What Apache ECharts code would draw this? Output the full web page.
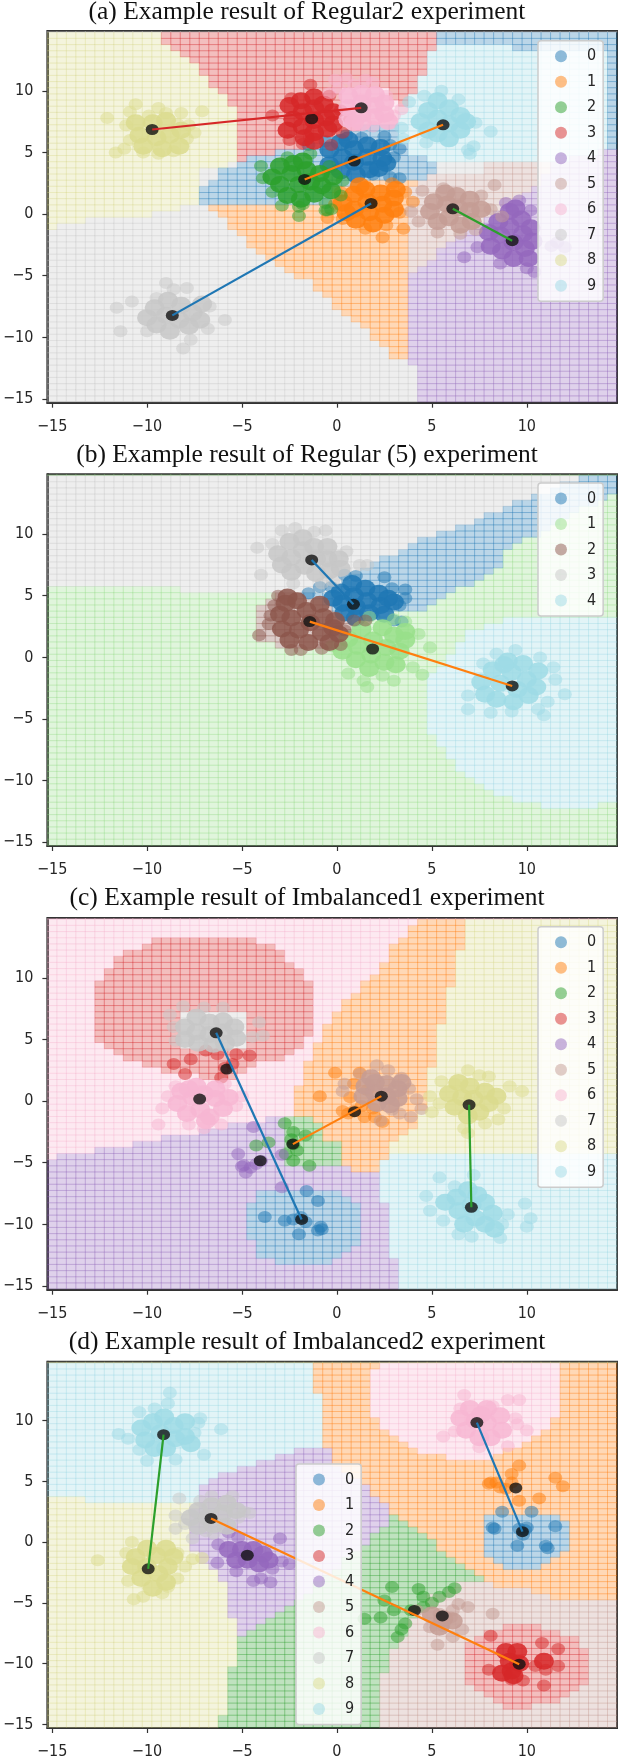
<!DOCTYPE html>
<html><head><meta charset="utf-8">
<style>html,body{margin:0;padding:0;background:#fff}#c{width:618px;height:1760px}</style>
<script src="https://cdn.jsdelivr.net/npm/echarts@6/dist/echarts.min.js"></script></head>
<body><div id="c"></div>
<script>
const tabColors=['#1f77b4','#ff7f0e','#2ca02c','#d62728','#9467bd','#c49c94','#f7b6d2','#c7c7c7','#dbdb8d','#9edae5'];
const fiveColors=['#1f77b4','#98df8a','#8c564b','#c7c7c7','#9edae5'];
const lineColors=['#1f77b4','#ff7f0e','#2ca02c','#d62728'];
const xTicks=[-15,-10,-5,0,5,10];
const yTicks=[-15,-10,-5,0,5,10];
const titles=['(a) Example result of Regular2 experiment','(b) Example result of Regular (5) experiment','(c) Example result of Imbalanced1 experiment','(d) Example result of Imbalanced2 experiment'];

// ---------- Panel A regions
const rA8=[[-15.3,15],[-9.9,15],[-7.4,12],[-5.8,9.2],[-5.4,8.5],[-5.4,4.4],[-5.9,3.7],[-7.4,3.5],[-7.4,.9],[-9.8,0],[-13.8,-.6],[-15.3,-1.3]];
const rA3=[[-9.9,15],[5.2,15],[5.2,13.3],[4.8,12.8],[4.8,11.3],[4.1,11.3],[4.1,10],[3.7,9.2],[3.5,8.5],[3.2,7.3],[1.5,7.3],[.3,6.5],[-1.5,5.5],[-4.2,4.8],[-5.3,3.7],[-5.4,3.7],[-5.4,8.5],[-5.8,9.2],[-7.4,12]];
const rA0s=[[5.2,15],[15,15],[15,5.3],[14.2,5.3],[14.2,13.2],[9.1,13.2],[9.1,13.8],[5.2,13.8]];
const rA9=[[3.2,7.3],[3.7,9.2],[4.1,10],[4.1,11.3],[4.8,11.3],[4.8,12.8],[5.2,13.3],[5.2,13.8],[9.1,13.8],[9.1,13.2],[14.2,13.2],[14.2,5.3],[13,4.3],[5.3,4.4],[3.8,4.6]];
const rA0=[[-7.4,.9],[-.2,.9],[0,2],[2,2.8],[4.1,2.8],[5.3,3.3],[5.3,4.4],[3.8,4.6],[3.2,7.3],[1.5,7.3],[.3,6.5],[-1.5,5.5],[-4.2,4.8],[-5.3,3.7],[-5.9,3.7],[-6.5,2.5],[-7.4,1.8]];
const rA5=[[4.1,2.8],[5.3,3.3],[7.8,3.3],[7.8,4.3],[11.5,4.3],[10.45,2.35],[8.2,0],[6.5,-1.6],[5.07,-3.5],[3.75,-5.2],[3.75,1]];
const rA4=[[3.75,-5.2],[5.07,-3.5],[6.5,-1.6],[8.2,0],[10.45,2.35],[11.5,4.3],[15,5.3],[15,-15.5],[4.2,-15.5],[4.2,-12.4],[3.75,-12.4]];
const rA1=[[-6.9,.9],[-.2,.9],[0,2],[2,2.8],[4.1,2.8],[3.75,1],[3.75,-11.9],[3.2,-11.9],[2,-10],[.2,-7.8],[-1.35,-5.6],[-3.4,-4],[-4.35,-2.8],[-5.8,-.75]];
const rA6=[[.3,7.3],[.3,9.8],[.8,10.3],[2.6,10.3],[2.9,9.3],[3.4,8.8],[3.4,7.8],[2.8,7.3]];
// ---------- Panel B regions
const rB3=[[-15.3,15],[13.6,15],[13.6,14.65],[12.6,14.4],[10,12.9],[9.1,12.35],[7.1,10.9],[6.1,10.4],[4.66,9.8],[3.6,8.84],[2.7,8.3],[1.55,7.2],[.5,6.27],[-.5,5.3],[-2.4,5.2],[-8.18,5.3],[-8.2,5.8],[-15.3,5.8]];
const rB0=[[13.6,15],[15,15],[14.9,13.3],[12.7,11.95],[10.45,9.8],[8.8,8.7],[8.8,7.35],[7.7,6.27],[5.7,5],[5.18,4.4],[4.14,3.7],[3,3.5],[.6,3],[.1,3.84],[-1.35,4.9],[-2.4,5.2],[-.5,5.3],[.5,6.27],[1.55,7.2],[2.7,8.3],[3.6,8.84],[4.66,9.8],[6.1,10.4],[7.1,10.9],[9.1,12.35],[10,12.9],[12.6,14.4],[13.6,14.65]];
const rB2=[[-4.3,4.4],[-4.3,1.4],[-3.2,1.4],[-3.2,.9],[-.3,.9],[.3,1.4],[.6,2.2],[.6,3],[.1,3.84],[-1.35,4.9],[-2.4,5.2],[-3.2,5.2],[-3.6,4.4]];
const rB4=[[15,3.43],[9.2,3.3],[7.1,2.2],[6.2,.86],[5.7,-.5],[4.66,-1.84],[4.66,-5.6],[5.18,-6.4],[5.7,-8],[6.7,-9.4],[8.1,-10.75],[9.6,-11.7],[12.3,-12.3],[15,-11.7]];
// ---------- Panel C regions
const rC4=[[-15.3,-4.7],[-13.35,-4.16],[-11.8,-3.75],[-9.83,-3.16],[-8.3,-2.8],[-6.3,-2.27],[-4.85,-1.6],[-2.4,-1.4],[-1,-2],[-.7,-3.2],[.2,-3.2],[.7,-5.24],[2.17,-5.65],[2.17,-7.7],[2.7,-8.35],[2.7,-12.7],[3.2,-12.7],[3.2,-15.5],[-15.3,-15.5]];
const rC2=[[-2.8,-1.3],[-1.3,-1.3],[-.7,-2.3],[-.7,-3.2],[.2,-3.2],[.2,-5.25],[-2.8,-5.25]];
const rC1=[[4.6,15],[6.7,15],[6.7,12.3],[6.2,12.2],[6.2,9.76],[5.7,8.8],[5.3,3.8],[4.76,2.3],[4.76,.57],[4.24,-2.27],[3.2,-2.95],[2.7,-4.3],[2.17,-5.65],[1.14,-5.65],[.7,-5.24],[.2,-5.24],[.2,-3.2],[-.7,-3.2],[-.7,-2.3],[-1.35,-1.32],[-2.28,-1.2],[-2.28,.3],[-1.86,1.8],[-1.35,3.67],[-.4,6.4],[.2,7.46],[1.24,9.35],[2.17,10.7],[2.7,11.8],[3.1,12.9],[4.14,14.3]];
const rC8=[[6.7,15],[15,15],[15,-4.3],[2.7,-4.3],[3.2,-2.95],[4.24,-2.27],[4.76,.57],[4.76,2.3],[5.3,3.8],[5.7,8.8],[6.2,9.76],[6.2,12.2],[6.7,12.3]];
const rC9=[[2.7,-4.3],[15,-4.3],[15,-15.5],[3.2,-15.5],[3.2,-12.7],[2.7,-12.7],[2.7,-8.35],[2.17,-7.7],[2.17,-5.65]];
const rC3=[[-8.86,13.3],[-5.28,13.3],[-3.83,12.86],[-2.8,11.8],[-1.86,10.7],[-1.24,9.2],[-1.24,5.84],[-2.28,3.67],[-4.24,3],[-5.28,1.73],[-9.1,2.3],[-10.87,3.27],[-12.4,4.35],[-12.8,5.84],[-12.8,8.5],[-12.4,10.43],[-10.87,12.3],[-9.83,12.86]];
const rC0=[[-3.83,-7.2],[.2,-7.2],[1.18,-8.5],[1.18,-11.6],[.2,-12.7],[-.83,-13.35],[-2.28,-13.35],[-3.93,-12.7],[-4.35,-11.6],[-4.87,-10.9],[-4.87,-8.76],[-4.35,-7.8]];
const rC7=[[-8.2,7.2],[-4.9,7.2],[-4.9,4.4],[-8.2,4.4]];
// ---------- Panel D regions
const rD9=[[-15.3,15],[-1.35,15],[-1.35,12.27],[-.83,12.27],[-.83,7.76],[-2.4,7.35],[-3.83,6.68],[-5.8,5.86],[-6.83,4.9],[-7.35,4.1],[-7.35,3.3],[-11.7,3.35],[-15.3,3.7]];
const rD4=[[-7.35,4.1],[-6.83,4.9],[-5.8,5.86],[-3.83,6.68],[-2.4,7.35],[-1.35,7.76],[-.3,7.76],[-.3,6.68],[2.17,3.7],[2.7,2.9],[2.7,1.68],[1.76,.3],[-2.17,-5.08],[-4.87,-7.8],[-5.4,-8.3],[-5.4,-6.7],[-5.8,-5.6],[-5.8,-3.86],[-6.3,-2.38],[-7.35,-1.16],[-7.8,-.2],[-7.8,1.4],[-7.35,3.3]];
const rD2=[[2.7,2.35],[3.2,2.2],[4.14,1.14],[5.18,-.2],[6.73,-2.24],[7.76,-2.9],[6.73,-3.3],[5,-4.4],[4.24,-5.9],[3.2,-8.46],[2.7,-9.3],[2.7,-10.75],[2.17,-11],[2.17,-15.5],[-6.35,-15.5],[-6.35,-14.1],[-5.8,-14.1],[-5.8,-10.2],[-5.4,-10.2],[-5.4,-8.3],[-4.87,-7.8],[-2.17,-5.08],[1.76,.3],[2.7,1.68]];
const rD5=[[7.76,-3.2],[8.8,-3.7],[11.2,-4.27],[11.7,-4.8],[15,-4.8],[15,-15.5],[2.17,-15.5],[2.17,-11],[2.7,-10.75],[2.7,-9.3],[3.2,-8.46],[4.24,-5.9],[5,-4.4],[6.73,-3.3]];
const rD1=[[-1.35,15],[15,15],[15,-4.8],[11.7,-4.8],[11.2,-4.27],[8.8,-3.7],[7.76,-3.2],[7.76,-2.9],[6.73,-2.24],[5.18,-.2],[4.14,1.14],[3.2,2.2],[2.7,2.35],[2.7,2.9],[2.17,3.7],[-.3,6.68],[-.3,7.76],[-.83,7.76],[-.83,12.27],[-1.35,12.27]];
const rD6=[[2.17,15],[11.2,15],[11.6,14.4],[11.6,10.86],[11.2,9.24],[9,7.5],[8,6.95],[5.7,6.95],[3.83,7.76],[2.28,9.5],[1.76,10.86],[1.76,13.7]];
const rD0=[[7.72,2.35],[11.7,2.35],[12.17,1.27],[12.17,-.62],[11.7,-1.16],[10.66,-2.16],[9.1,-2.16],[7.72,-1.16]];
const rD3=[[6.63,-8.86],[7.14,-7.8],[8.18,-7.1],[10.25,-6.7],[12.2,-7.65],[13.25,-8.86],[13.25,-11.3],[12.2,-12.4],[11.7,-13.2],[9.2,-13.7],[7.66,-12.4],[6.63,-11.57]];

// ---------- Panel A points (loose points, then dense core)
const A0=[[3.3,5.3],[2.5,6.3],[2.8,3],[3.3,2.9],[1.9,3.2],[.5,6.4],[2.8,5.6],[3,4.6],[-.6,5.9],[1.3,6.2],[-1.5,5.6]];
const A0c=[[-.4,4],[-.4,5.2],[.2,5.8],[.3,4.6],[.2,3.5],[.9,5.3],[.9,4.2],[1,3.2],[1.6,5.6],[1.6,4.6],[1.7,3.6],[2.3,5.4],[2.4,4.5],[2.2,3.7],[2.6,4.1],[.6,6]];
const A1=[[3.5,-1.2],[2.4,-1.9],[4,1],[3.6,1.8],[-.1,.8],[2.9,2.5],[1.5,-1.2],[.3,-.4],[2.6,-.9],[3.3,.1],[-.5,-.3],[.2,1.8]];
const A1c=[[.3,.9],[.5,.1],[.9,1.6],[.9,.4],[1,-.5],[1.5,2],[1.6,1],[1.7,.1],[1.9,-.8],[2.3,1.7],[2.4,.8],[2.5,-.1],[3,1.3],[3,.4],[3.1,2],[1.2,2.3]];
const A2=[[-4,3.9],[-3.9,2.9],[-2.9,.7],[-2.6,4.6],[-1.4,4.9],[-.4,3.9],[-.6,.9],[.3,2.7],[-3.4,1.8],[-1.8,.8],[.2,1.5],[-2,.6],[-2,-.15],[-.6,.3],[-.5,.3],[-.3,.4]];
const A2c=[[-3.4,3],[-3,3.9],[-3,2.4],[-2.6,1.5],[-2.4,3.3],[-2.3,4.1],[-2,2.4],[-1.9,1.2],[-1.6,3.6],[-1.4,2.6],[-1.2,1.6],[-.9,3.3],[-.8,2.3],[-.2,3],[-.3,1.9],[-1.8,4.3]];
const A3=[[-1.4,10.5],[-3.4,8],[-2.5,6],[.3,6.6],[-.3,5.6],[.2,8.4],[-1.8,5.7],[-2.4,9.4],[-.4,9.6],[.7,7.7]];
const A3c=[[-2.5,8.8],[-2.3,7.7],[-2.6,6.8],[-1.9,9.2],[-1.8,8.3],[-1.8,7.1],[-1.7,6.2],[-1.2,9.5],[-1.2,8.6],[-1.2,7.6],[-1.2,6.6],[-.7,8.9],[-.6,7.8],[-.5,6.9],[-.2,7.3],[-.2,8.3],[-1.2,5.9]];
const A4=[[7.4,-2.7],[6.7,-3.5],[8.9,.9],[9.6,1.1],[10.2,.3],[10,-4.4],[8.6,-4],[10.4,-4.7],[11.3,-2.6],[12,-2.7],[11.6,-2.3]];
const A4c=[[8,-1.5],[8.1,-2.6],[8.5,-.6],[8.6,-1.7],[8.7,-3],[9.1,.2],[9.1,-1],[9.3,-2.3],[9.3,-3.6],[9.7,-.4],[9.8,-1.6],[9.9,-2.8],[10.1,-3.6],[10.2,-1.1],[10.3,-2.2],[9.4,.5]];
const A5=[[8.3,2.35],[4.5,1.9],[3.9,.2],[8.1,.4],[5.3,-1.5],[7.3,-1.3],[6.5,-1.6],[7.6,1.5],[5.6,2.1],[4.3,-.6],[8.7,-.2]];
const A5c=[[4.9,.2],[5.1,1],[5.3,-.6],[5.7,1.7],[5.8,.8],[5.9,-.3],[6.3,1.5],[6.4,.5],[6.5,-.9],[7,1.2],[7,.3],[7.1,-.6],[7.6,.4]];
const A6=[[-.1,10.9],[.5,11],[1.9,10.7],[.9,10.5],[2.6,9.6],[3,8],[3.4,8.5],[1.9,7.1],[.1,10.2],[1.5,10.9],[-.4,9.8]];
const A6c=[[.6,9.6],[.6,8.6],[.6,7.7],[1.3,9.8],[1.3,9],[1.3,8.1],[1.3,7.4],[2,9.7],[2,8.8],[2,7.9],[2.5,9],[2.5,8.1],[2.7,7.5],[.9,7.4]];
const A7=[[-11.6,-7.6],[-11.4,-9.5],[-10.8,-7.1],[-9,-5.6],[-7.9,-6],[-5.9,-8.6],[-8.1,-10.9],[-7.7,-10.2],[-10,-9.5],[-6.7,-7.5],[-8.6,-6.1],[-6.8,-9.3],[-9.5,-6.8]];
const A7c=[[-10,-8.4],[-9.6,-7.6],[-9.5,-9],[-9,-8.2],[-8.9,-7],[-8.8,-9.5],[-8.3,-8.6],[-8.2,-7.4],[-7.8,-9.1],[-7.6,-8],[-7.2,-8.6],[-7.1,-7.3]];
const A8=[[-12.1,7.8],[-11.65,5],[-11.2,5.3],[-11.1,7.2],[-10.9,8.3],[-10.6,8.9],[-10.2,5],[-9.9,8],[-9.4,8.6],[-9,8.2],[-8.6,5.1],[-8.4,7.3],[-8.2,8.2],[-7.9,6.1],[-7.8,7.2],[-7.5,6.6],[-7.1,8.35],[-10.9,6],[-9.4,4.9]];
const A8c=[[-10.6,7.4],[-10.4,6.4],[-10.2,5.5],[-9.7,7.4],[-9.5,6.2],[-9.2,5.3],[-9,7.6],[-8.8,6.4],[-8.3,5.5],[-8.2,6.8]];
const A9=[[8.1,6.7],[3.8,9.1],[3.4,7],[3.5,6.1],[7.2,5.5],[7,4.9],[6.9,5.2],[4.7,5.8],[7.3,7.4],[6.4,9.3],[5.5,10],[4.6,9.6]];
const A9c=[[4.4,7.5],[4.8,8.4],[4.8,6.8],[5.3,9.2],[5.3,7.8],[5.3,6.5],[5.9,8.6],[5.9,7.3],[5.9,6.1],[6.5,8],[6.5,6.8],[6.8,7.5]];
// ---------- Panel B points
const B0=[[.4,6.7],[1,6.6],[2.5,6.5],[3.6,5.5],[3.3,4.2],[3.6,4.8],[3,3],[3.4,2.9],[-1.5,5.2],[-.9,5.7],[-.3,5.7],[2.9,5.6]];
const B0c=[[-.2,4.8],[.2,5.3],[.3,4.4],[.4,3.6],[.8,6],[.9,5],[1,4.1],[1,3.2],[1.5,5.6],[1.6,4.6],[1.7,3.6],[2.2,5.2],[2.3,4.2],[2.5,3.5],[2.7,4.8],[3,4.5]];
const B1=[[-.3,.9],[.6,-1.3],[1.4,-1.9],[1.6,-2.4],[2.4,-1.5],[3,-1.9],[4,-.8],[4.5,-1.4],[4.9,.8],[4.3,1.9],[3.6,2.9],[1.7,3.3],[3,3.1]];
const B1c=[[.3,.5],[.6,1.5],[1,-.2],[1.1,.9],[1.3,2.3],[1.7,-.9],[1.8,.2],[1.9,1.4],[2.4,2.4],[2.5,-.4],[2.6,.8],[3,1.8],[3.1,-.6],[3.3,.5],[3.6,1.4],[3.6,2.1]];
const B2=[[-4.1,1.8],[-3.5,3.4],[-3.1,5],[-2.4,.6],[-1.9,.6],[-.8,.7],[.4,2.2],[.9,3],[1.5,3],[-3.3,4.2],[-3.6,2.7],[.2,1]];
const B2c=[[-3,3.5],[-2.9,2.3],[-2.7,4.4],[-2.5,1.4],[-2.4,3.2],[-2.1,4.6],[-2,2.2],[-1.6,3.8],[-1.5,1.2],[-1.4,2.8],[-.9,4.3],[-.8,2],[-.7,3.3],[-.2,2.4],[-.1,3],[-.4,1.2],[.1,1.9],[-2.6,4.9]];
const B3=[[-4.2,8.9],[-4,6.7],[-3.4,9.2],[-2.9,10.3],[-2.2,10.5],[-1.2,10.2],[-.6,10.3],[.5,8.6],[1.2,7.5],[1.6,7.5],[-.8,6],[-2.3,6],[-.2,6.2]];
const B3c=[[-3.1,8.4],[-2.9,7.5],[-2.5,9.4],[-2.4,8.1],[-2.4,6.9],[-1.8,9.7],[-1.8,8.7],[-1.7,7.4],[-1.2,9],[-1.1,8],[-1.1,6.8],[-.5,9],[-.5,8],[-.4,7],[.1,8],[.2,7.2]];
const B4=[[6.9,-3.1],[6.9,-4.2],[7.7,-.5],[8.1,-4.5],[9.2,-4.4],[9.4,.6],[10.9,-4.7],[11.4,-.8],[11.5,-1.8],[12,-3],[10.7,0],[8.4,.3],[10.6,-4.2],[11.1,-3.6]];
const B4c=[[7.6,-2],[7.8,-3],[8.2,-1],[8.4,-3.4],[8.6,-2.1],[9,-.3],[9.2,-1.2],[9.3,-3.6],[9.5,-2.6],[9.8,-.5],[10,-1.8],[10.1,-3.1],[10.5,-2.4],[10.6,-1.1],[8.8,-.6]];
// ---------- Panel C points
const C0=[[-1.6,-7.3],[-1,-8.1],[-3.8,-9.4],[-2.75,-9.7],[-2.3,-9.6],[-1.9,-9.4],[-1.65,-9.8],[-2,-10.8],[-1,-10.5],[-.8,-10.4],[-.85,-10.2]];
const C1=[[-.9,.4],[-.1,2.3],[1.2,2.3],[.9,-.8],[.3,-.8],[2,-1.3],[1.45,-1.3],[.6,-1],[2.4,-1.7],[.7,.3],[.9,1.4],[1.6,.9],[1.3,-.4],[1.9,-.6]];
const C2=[[-2.75,-1.8],[-2.3,-2.5],[-1.65,-2.8],[-2.3,-3.5],[-4.25,-3.6],[-3.6,-3.35],[-2.3,-4.84],[-1.45,-5.24],[-2.7,-4.3],[-2.1,-4],[-2.4,-3.1]];
const C3=[[-7.7,3.4],[-5.3,3.8],[-4.6,3.7],[-5.9,2.7],[-6.9,4.1],[-6.3,3.8],[-5.5,3],[-8.6,3],[-8,2.2],[-6.1,1.9]];
const C4=[[-4.4,-2.1],[-5.2,-4.3],[-4.9,-5.2],[-4.8,-5.8],[-4.25,-5.1],[-4,-4.85],[-2.9,-4.35],[-2.9,-7],[-4.55,-5.4],[-5,-5.3]];
const C5=[[2.1,2.9],[2.7,2.5],[3.4,1.9],[4.2,.15],[4.45,-.65],[3.9,-1.3],[3.3,-1],[2.3,-1.6],[.3,.8],[.4,1.4],[3.8,1],[2.9,-.7],[1.2,2.2]];
const C5c=[[1.4,.4],[1.5,1.2],[2,.7],[2,1.5],[2.1,-.2],[2.6,1.4],[2.6,.4],[2.8,-.3],[3.2,1],[3.2,.2],[3.4,1.5],[1.8,1.9]];
const C6=[[-9.4,-1.9],[-9.2,-.6],[-8.9,.4],[-7.8,-1.9],[-7,-2.2],[-6.1,-1.9],[-5,.4],[-5.3,-.4],[-8.5,1.2],[-5.9,1.4]];
const C6c=[[-8.4,-.2],[-8.2,.8],[-7.9,-1],[-7.6,.3],[-7.4,1.2],[-7.2,-.7],[-7,.6],[-6.7,-1.3],[-6.4,.2],[-6.4,1],[-6,-.6],[-5.7,.3],[-7.8,1],[-6.9,-1.6]];
const C7=[[-8.8,7],[-8.1,7.7],[-7,7.6],[-6,7.6],[-4.1,6.4],[-3.9,5.3],[-4.45,5.2],[-8.5,4.9],[-8.6,6]];
const C7c=[[-8,6],[-8,5],[-7.4,6.8],[-7.4,5.6],[-7.3,4.7],[-6.7,6.4],[-6.7,5.4],[-6.5,4.6],[-6,6.5],[-6,5.6],[-5.9,4.7],[-5.4,6],[-5.3,5.1]];
const C8=[[4.9,.4],[5,-.9],[5.5,1.6],[6.9,2.5],[7.5,2.1],[8,2],[9.1,1.2],[9.75,.8],[8.8,-.6],[8.5,-1.5],[7.8,-1.8],[6.7,-2.2],[6.9,-2.6],[5.4,-.2],[6.2,1.4]];
const C8c=[[5.9,.6],[6.2,-.5],[6.4,1.5],[6.6,.3],[6.9,-1.2],[7,1.2],[7.2,.2],[7.5,-.9],[7.8,.8],[8,-.2],[8.4,.4]];
const C9=[[4.7,-7.7],[4.9,-8.9],[5.4,-6.2],[6.2,-6.9],[7.2,-6],[7.1,-11],[8.6,-11.1],[9,-9.2],[9.9,-8.3],[10.2,-9.5],[10,-10.2],[6.4,-10.8],[8.7,-10],[5.6,-9.7]];
const C9c=[[5.7,-8.2],[6.3,-7.8],[6.4,-8.9],[6.7,-10],[6.9,-7.2],[7.1,-8.4],[7.3,-9.5],[7.8,-8.2],[7.8,-10],[8.2,-9.1],[8.3,-10.4],[7.4,-7.6]];
// ---------- Panel D points
const D0=[[8.2,1.2],[8.3,1.1],[9.5,-.3],[11,-.3],[11.1,-.5],[11.5,1.3],[9.9,1],[9.6,1.1],[10,1.2],[9.8,.6],[8.7,2.5],[10.25,2.5]];
const D1=[[9.6,6.3],[9.2,5.6],[8.1,4.9],[8,4.8],[8.6,4.5],[9.2,4.9],[11.5,5.3],[11.9,4.6],[10.65,3.6],[9.6,3.4],[8.9,4.4],[8.4,4.9]];
const D2=[[2.9,-3.7],[4.3,-3.85],[4.55,-4.5],[6.2,-3.8],[5.4,-4.5],[2.5,-4.8],[3,-5.6],[2.3,-6.2],[1.45,-6.3],[3.6,-6.7],[3.2,-7.8],[3.4,-7.2],[3.9,-5.6],[4.55,-5.35],[5,-5],[5.9,-4.1]];
const D3=[[8.1,-7.7],[10.8,-8.3],[11.65,-8.8],[10.9,-11.8],[9.8,-11.4],[8,-10.5],[9.2,-11.3],[11.65,-10.2],[11,-10.5],[10.45,-10.2]];
const D3c=[[8.9,-9],[9.1,-9.8],[9.2,-10.6],[9.5,-9],[9.6,-10],[8.7,-10.8],[9.3,-11],[10.9,-9.8]];
const D4=[[-6.3,-1.7],[-6.25,-.2],[-3,.3],[-2.5,-1.8],[-3.5,-3.3],[-4,-3],[-5.3,-2.4],[-4.4,-3.2],[-3.4,-2.2],[-2.9,-1.6],[-5.7,.8],[-5.2,.4]];
const D4c=[[-5.7,-.6],[-5.3,-1.5],[-5,-.6],[-4.7,-1.5],[-4.4,-.6],[-4.1,-1.8],[-3.9,-1],[-3.6,-1.5]];
const D5=[[8.2,-5.9],[6.9,-5.35],[6.4,-5.1],[6.6,-7.2],[6.1,-7.8],[5.3,-8.45],[4.9,-7],[5.4,-5.9],[4.2,-5.6],[6,-6.2],[5.6,-6.9],[6.1,-5.6]];
const D5c=[[5,-6],[5.6,-6.3],[6.1,-6.5],[5.4,-7]];
const D6=[[5.6,8.7],[6.7,12.1],[9,11.7],[9.6,11.7],[10,9.2],[9,7.9],[7.5,7.8],[6.2,9.1],[9.4,10.2],[6.5,11],[8.2,11.2],[9.5,9.7]];
const D6c=[[6.5,10.2],[6.8,9.2],[7,11],[7.3,10],[7.5,8.6],[7.9,11],[7.9,9.8],[8.1,8.6],[8.6,10.4],[8.7,9.2],[7.6,10.5]];
const D7=[[-8.5,2.2],[-8.5,1.1],[-8.3,3.6],[-7.6,.3],[-7.2,3.4],[-6.6,3.8],[-5.5,3.8],[-4.9,2.5],[-5.2,2],[-6.5,.7],[-8,1.5],[-4.6,2.4],[-6.9,.9]];
const D7c=[[-7.7,2],[-7.3,1.3],[-7.3,2.6],[-6.8,2],[-6.6,3],[-6.5,1.4],[-6,2.4],[-5.8,1.3],[-5.8,3.2],[-5.3,2.6]];
const D8=[[-12.6,-1.5],[-11.1,-.9],[-10.8,0],[-8.4,-.9],[-7.6,-1.4],[-7.1,-1.3],[-11,-3.2],[-10.7,-4.7],[-10.2,-4.5],[-8.9,-3.7],[-8.4,-3],[-9.2,-4.2],[-8,-2]];
const D8c=[[-10.8,-2],[-10.6,-1.2],[-10.3,-3],[-10,-.5],[-10,-2],[-9.7,-3.8],[-9.5,-1.1],[-9.4,-2.6],[-9,-.5],[-8.9,-2],[-9,-3.3],[-8.6,-1.2]];
const D9=[[-11.5,8.9],[-11,8.5],[-10.4,10.7],[-9.6,11],[-8.8,12.3],[-8.9,11.4],[-7.2,10.2],[-6.1,9.3],[-7,7.2],[-8.5,6.8],[-10,6.7],[-7.5,9],[-10.4,7.6],[-7.3,9.8]];
const D9c=[[-10.3,9.4],[-10.1,8.4],[-9.7,9.9],[-9.6,7.7],[-9.3,9],[-9.1,10.3],[-9,7.7],[-8.6,9.6],[-8.5,8.5],[-8,9.9],[-8,8.7],[-7.7,8.1]];
// ---------- Centroids per panel (index = class) and connecting lines [from,to]
const centA=[[.91,4.3],[1.8,.86],[-1.7,2.81],[-1.33,7.73],[9.23,-2.16],[6.1,.43],[1.28,8.62],[-8.67,-8.22],[-9.73,6.86],[5.59,7.24]];
const centB=[[.87,4.3],[1.88,.68],[-1.43,2.9],[-1.33,7.9],[9.23,-2.32]];
const centC=[[-1.86,-9.6],[.93,-.86],[-2.32,-3.49],[-5.8,2.6],[-4.04,-4.84],[2.34,.4],[-7.23,.16],[-6.36,5.54],[6.96,-.3],[7.08,-8.62]];
const centD=[[9.77,.86],[9.42,4.46],[4.08,-5.62],[9.6,-10.05],[-4.72,-1.08],[5.55,-6.08],[7.37,9.84],[-6.63,1.95],[-9.94,-2.2],[-9.13,8.84]];
const linkA=[[7,1],[2,9],[5,4],[8,6]];
const linkB=[[3,0],[2,4]];
const linkC=[[7,0],[2,5],[8,9]];
const linkD=[[6,0],[7,3],[9,8]];

const panels=[
 {top:31,base:7,colors:tabColors,regions:[[8,rA8],[3,rA3],[0,rA0s],[9,rA9],[0,rA0],[5,rA5],[4,rA4],[1,rA1],[6,rA6]],
  loose:[A0,A1,A2,A3,A4,A5,A6,A7,A8,A9],dense:[A0c,A1c,A2c,A3c,A4c,A5c,A6c,A7c,A8c,A9c],cent:centA,links:linkA,legendLeft:538,legendTop:40.7},
 {top:474.3,base:1,colors:fiveColors,regions:[[3,rB3],[0,rB0],[2,rB2],[4,rB4]],
  loose:[B0,B1,B2,B3,B4],dense:[B0c,B1c,B2c,B3c,B4c],cent:centB,links:linkB,legendLeft:538,legendTop:483},
 {top:918,base:6,colors:tabColors,regions:[[4,rC4],[2,rC2],[1,rC1],[8,rC8],[9,rC9],[3,rC3],[0,rC0],[7,rC7]],
  loose:[C0,C1,C2,C3,C4,C5,C6,C7,C8,C9],dense:[[],[],[],[],[],C5c,C6c,C7c,C8c,C9c],cent:centC,links:linkC,legendLeft:538,legendTop:926.7},
 {top:1361.7,base:8,colors:tabColors,regions:[[9,rD9],[4,rD4],[2,rD2],[5,rD5],[1,rD1],[6,rD6],[0,rD0],[3,rD3]],
  loose:[D0,D1,D2,D3,D4,D5,D6,D7,D8,D9],dense:[[],[],[],D3c,D4c,D5c,D6c,D7c,D8c,D9c],cent:centD,links:linkD,legendLeft:296,legendTop:1464}
];

const XMIN=-15.25,XMAX=14.75,YMIN=-15.3,YMAX=14.85,STEP=.5,GL=45.7,GW=571.3,GH=371.7;
const FONT='"DejaVu Sans Condensed","DejaVu Sans",sans-serif';

function inPoly(x,y,poly){let c=false;for(let i=0,j=poly.length-1;i<poly.length;j=i++){
  const a=poly[i],b=poly[j];
  if((a[1]>y)!==(b[1]>y)&&x<(b[0]-a[0])*(y-a[1])/(b[1]-a[1])+a[0])c=!c;}return c;}
function rgba(h,a){const n=parseInt(h.slice(1),16);return `rgba(${n>>16},${(n>>8)&255},${n&255},${a})`;}
function cellsOf(p){const out=[];
  for(let x=-15.25;x<14.74;x+=STEP)for(let y=-15.25;y<14.9;y+=STEP){
    let lab=p.base;const cx=x+STEP/2,cy=y+STEP/2;
    p.regions.forEach(r=>{if(inPoly(cx,cy,r[1]))lab=r[0];});
    out.push([x,y,lab]);}
  return out;}

const grid=[],xAxis=[],yAxis=[],series=[],legend=[],title=[];
const titleTops=[-1,442.3,885.3,1329];
panels.forEach((p,i)=>{
  title.push({text:titles[i],left:307,top:titleTops[i],textAlign:'center',padding:0,
    textStyle:{fontFamily:'"Liberation Serif",serif',fontWeight:'normal',fontSize:25.5,color:'#111'}});
  grid.push({left:GL,top:p.top,width:GW,height:GH,show:true,borderColor:'#333',borderWidth:2,backgroundColor:'#fff'});
  const ax={min:0,max:0,gridIndex:i,type:'value',splitLine:{show:false},
    axisLine:{show:true,onZero:false,lineStyle:{color:'#333',width:2}},
    axisTick:{show:true,length:5,lineStyle:{color:'#333',width:1.2}},
    axisLabel:{fontFamily:FONT,fontSize:16,color:'#262626',formatter:v=>String(v).replace('-','\u2212')}};
  xAxis.push({...ax,min:XMIN,max:XMAX,axisTick:{...ax.axisTick,customValues:xTicks},
    axisLabel:{...ax.axisLabel,customValues:xTicks,margin:16,showMinLabel:true,showMaxLabel:true}});
  yAxis.push({...ax,min:YMIN,max:YMAX,axisTick:{...ax.axisTick,customValues:yTicks},
    axisLabel:{...ax.axisLabel,customValues:yTicks,margin:14,showMinLabel:true,showMaxLabel:true}});
  series.push({type:'custom',xAxisIndex:i,yAxisIndex:i,silent:true,clip:true,progressive:0,z:1,data:cellsOf(p),
    encode:{x:0,y:1},
    renderItem:(params,api)=>{
      const x=api.value(0),y=api.value(1),c=p.colors[api.value(2)];
      const a=api.coord([x,y+STEP]),b=api.coord([x+STEP,y]);
      return {type:'rect',shape:{x:a[0],y:a[1],width:b[0]-a[0],height:b[1]-a[1]},
        style:{fill:rgba(c,.3),stroke:rgba(c,.24),lineWidth:1}};
    }});
  p.colors.forEach((c,k)=>{
    const nm=String(k);
    series.push({type:'scatter',name:nm,xAxisIndex:i,yAxisIndex:i,silent:true,z:2,data:p.loose[k],symbol:'circle',symbolSize:[14,12],itemStyle:{color:c,opacity:.5}});
    if(p.dense[k].length)series.push({type:'scatter',name:nm,xAxisIndex:i,yAxisIndex:i,silent:true,z:2,data:p.dense[k],symbol:'circle',symbolSize:[20,17],itemStyle:{color:c,opacity:.85}});
  });
  series.push({type:'scatter',xAxisIndex:i,yAxisIndex:i,silent:true,z:3,data:p.cent,symbol:'circle',symbolSize:[13,11],itemStyle:{color:'#111',opacity:.8}});
  p.links.forEach((l,k)=>{
    series.push({type:'line',xAxisIndex:i,yAxisIndex:i,silent:true,z:4,showSymbol:false,data:[p.cent[l[0]],p.cent[l[1]]],lineStyle:{color:lineColors[k],width:2.2}});
  });
  legend.push({show:true,orient:'vertical',left:p.legendLeft,top:p.legendTop,selectedMode:false,z:6,
    backgroundColor:'rgba(255,255,255,.82)',borderColor:'#ccc',borderWidth:1.5,borderRadius:3,
    padding:[7.5,7,7.5,17],itemWidth:42,itemHeight:12,itemGap:9.5,
    textStyle:{fontFamily:FONT,fontSize:16,lineHeight:16,color:'#262626'},
    data:p.colors.map((c,k)=>({name:String(k),icon:'circle',itemStyle:{color:c,opacity:.5}}))});
});
const chart=echarts.init(document.getElementById('c'),null,{renderer:'canvas'});
chart.setOption({animation:false,backgroundColor:'#fff',title,grid,xAxis,yAxis,legend,series});
</script></body></html>
